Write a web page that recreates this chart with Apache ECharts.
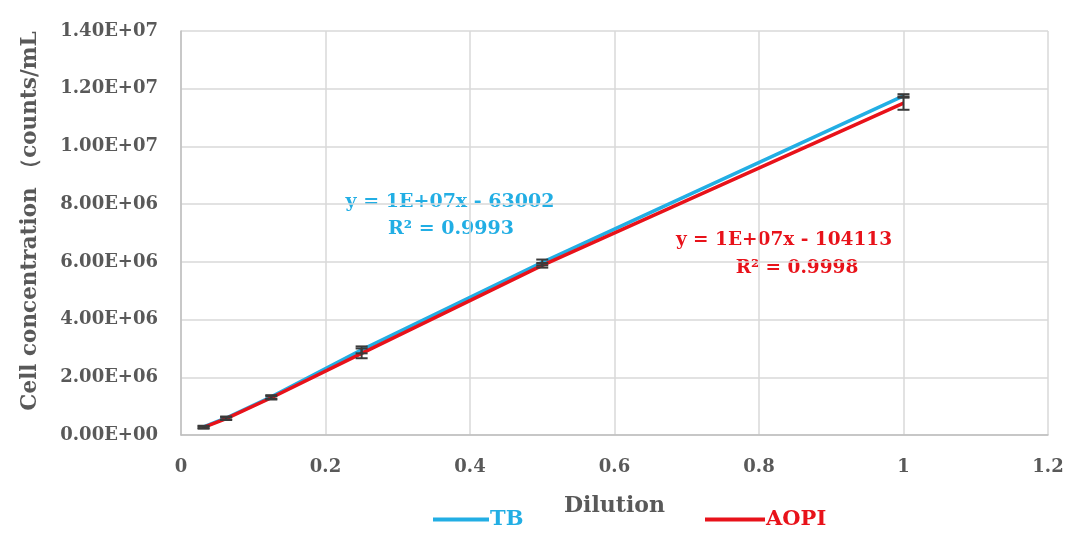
<!DOCTYPE html>
<html><head><meta charset="utf-8">
<script src="https://cdn.jsdelivr.net/npm/echarts@6/dist/echarts.min.js"></script>
<style>html,body{margin:0;padding:0;background:#fff}#c{width:1080px;height:534px}</style>
</head><body><div id="c"></div>
<script>
const dilution = [0.03125, 0.0625, 0.125, 0.25, 0.5, 1];
const tbValues = [280000, 590000, 1320000, 2950000, 5980000, 11750000];
const tbErr = [40000, 50000, 60000, 120000, 100000, 60000];
const aopiValues = [260000, 570000, 1290000, 2830000, 5880000, 11500000];
const aopiErr = [40000, 50000, 60000, 170000, 80000, 230000];
const yTickLabels = ['0.00E+00','2.00E+06','4.00E+06','6.00E+06','8.00E+06','1.00E+07','1.20E+07','1.40E+07'];
const xTickLabels = ['0','0.2','0.4','0.6','0.8','1','1.2'];
const tbEq = ['y = 1E+07x - 63002', 'R² = 0.9993'];
const aopiEq = ['y = 1E+07x - 104113', 'R² = 0.9998'];

const BLUE = '#22aee4', RED = '#e8121a', GRAY = '#595959';
const FONT = '"DejaVu Serif","Liberation Serif",serif';

const pairs = (vals) => dilution.map((x, i) => [x, vals[i]]);
const errData = (vals, errs) => dilution.map((x, i) => [x, vals[i] - errs[i], vals[i] + errs[i]]);
function errRender(params, api) {
  const x = api.value(0);
  const lo = api.coord([x, api.value(1)]);
  const hi = api.coord([x, api.value(2)]);
  const w = 6;
  const st = {stroke: '#3a3a3a', lineWidth: 2};
  return {type: 'group', children: [
    {type: 'line', shape: {x1: lo[0], y1: lo[1], x2: hi[0], y2: hi[1]}, style: st},
    {type: 'line', shape: {x1: lo[0]-w, y1: lo[1], x2: lo[0]+w, y2: lo[1]}, style: st},
    {type: 'line', shape: {x1: hi[0]-w, y1: hi[1], x2: hi[0]+w, y2: hi[1]}, style: st}
  ]};
}

const chart = echarts.init(document.getElementById('c'));
chart.setOption({
  animation: false,
  grid: {left: 181, right: 32, top: 31, bottom: 99},
  xAxis: {
    type: 'value', min: 0, max: 1.2, interval: 0.2,
    name: 'Dilution', nameLocation: 'middle', nameGap: 60,
    nameTextStyle: {fontFamily: FONT, fontWeight: 'bold', fontSize: 22, color: GRAY},
    axisLine: {show: true, lineStyle: {color: '#bfbfbf', width: 1.5}},
    axisTick: {show: false},
    axisLabel: {fontFamily: FONT, fontWeight: 'bold', fontSize: 18, color: GRAY, margin: 23,
      formatter: (v) => xTickLabels[Math.round(v / 0.2)]},
    splitLine: {show: true, lineStyle: {color: '#d9d9d9', width: 1.5}}
  },
  yAxis: {
    type: 'value', min: 0, max: 14000000, interval: 2000000,
    name: 'Cell concentration （counts/mL', nameLocation: 'middle', nameGap: 140,
    nameTextStyle: {fontFamily: FONT, fontWeight: 'bold', fontSize: 21.5, color: GRAY, padding: [0, 0, 0, 24]},
    axisLine: {show: true, lineStyle: {color: '#bfbfbf', width: 1.5}},
    axisTick: {show: false},
    axisLabel: {fontFamily: FONT, fontWeight: 'bold', fontSize: 18, color: GRAY, margin: 23,
      formatter: (v) => yTickLabels[Math.round(v / 2000000)]},
    splitLine: {show: true, lineStyle: {color: '#d9d9d9', width: 1.5}}
  },
  legend: [
    {left: 428, top: 504, itemWidth: 56, itemHeight: 4, itemGap: 10,
     data: [{name: 'TB', icon: 'rect', textStyle: {color: BLUE}}],
     textStyle: {fontFamily: FONT, fontWeight: 'bold', fontSize: 21, padding: [0,0,0,-4]}},
    {left: 700, top: 504, itemWidth: 60, itemHeight: 4,
     data: [{name: 'AOPI', icon: 'rect', textStyle: {color: RED}}],
     textStyle: {fontFamily: FONT, fontWeight: 'bold', fontSize: 21, padding: [0,0,0,-4]}}
  ],
  series: [
    {name: 'TB', type: 'line', data: pairs(tbValues), symbol: 'none',
     lineStyle: {color: BLUE, width: 3.5}, itemStyle: {color: BLUE}, z: 3},
    {name: 'AOPI', type: 'line', data: pairs(aopiValues), symbol: 'none',
     lineStyle: {color: RED, width: 3.5}, itemStyle: {color: RED}, z: 4},
    {type: 'custom', renderItem: errRender, data: errData(tbValues, tbErr), z: 5, encode: {x: 0, y: [1, 2]}},
    {type: 'custom', renderItem: errRender, data: errData(aopiValues, aopiErr), z: 5, encode: {x: 0, y: [1, 2]}}
  ],
  graphic: [
    {type: 'text', x: 450, y: 202, style: {text: tbEq[0], fill: BLUE, font: 'bold 19px ' + FONT, align: 'center', verticalAlign: 'middle'}},
    {type: 'text', x: 451, y: 229, style: {text: tbEq[1], fill: BLUE, font: 'bold 19px ' + FONT, align: 'center', verticalAlign: 'middle'}},
    {type: 'text', x: 784, y: 240, style: {text: aopiEq[0], fill: RED, font: 'bold 18.5px ' + FONT, align: 'center', verticalAlign: 'middle'}},
    {type: 'text', x: 797, y: 268, style: {text: aopiEq[1], fill: RED, font: 'bold 18.5px ' + FONT, align: 'center', verticalAlign: 'middle'}}
  ]
});
</script></body></html>
